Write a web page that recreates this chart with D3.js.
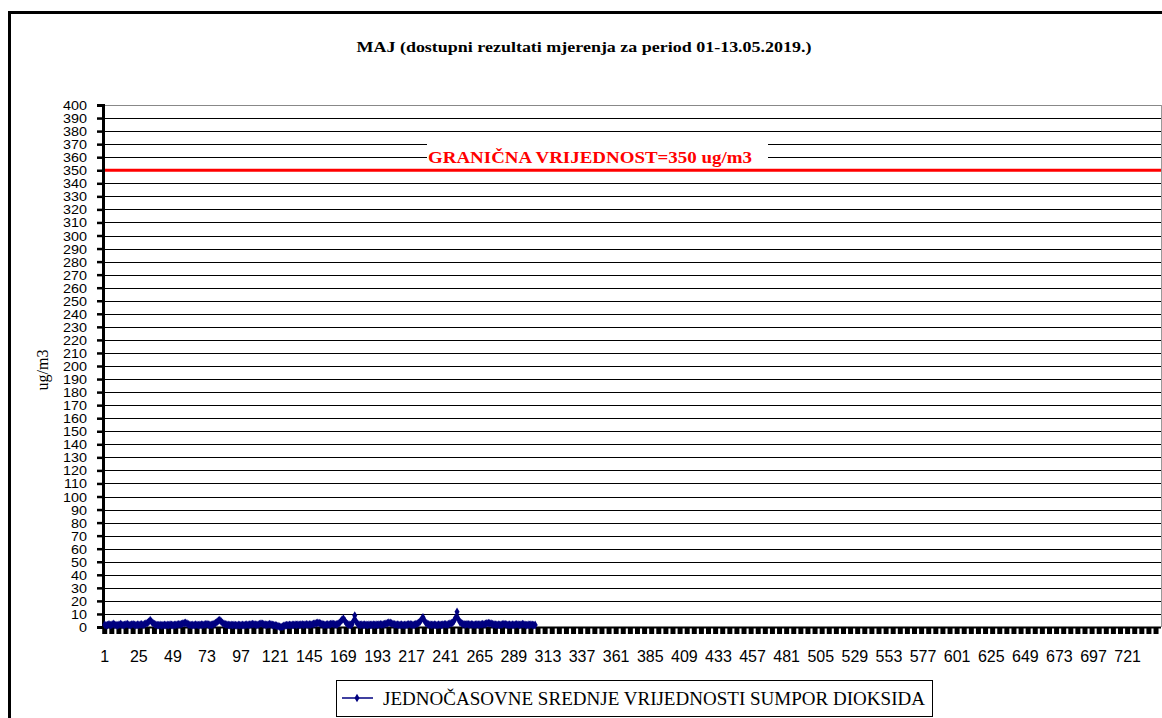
<!DOCTYPE html>
<html><head><meta charset="utf-8">
<script src="https://cdn.jsdelivr.net/npm/d3@7"></script>
<style>html,body{margin:0;padding:0;background:#fff;overflow:hidden}
.serif{font-family:"Liberation Serif","DejaVu Serif",serif}
.sans{font-family:"Liberation Sans","DejaVu Sans",sans-serif}
</style>
</head><body>
<svg id="c" width="1162" height="718"></svg>
<script>
const titleText = "MAJ (dostupni rezultati mjerenja za period 01-13.05.2019.)";
const yTitle = "ug/m3";
const seriesName = "JEDNOČASOVNE SREDNJE VRIJEDNOSTI SUMPOR DIOKSIDA";
const limitLabel = "GRANIČNA VRIJEDNOST=350 ug/m3";
const limitValue = 350;
const hoursInMonth = 744;
const xTickLabels = [1,25,49,73,97,121,145,169,193,217,241,265,289,313,337,361,385,409,433,457,481,505,529,553,577,601,625,649,673,697,721];
const yTicks = d3.range(0, 401, 10);
// hourly SO2 values, by day
const day01 = [1.8,1.2,1.5,2.1,1.4,1.6,2.4,1.9,1.5,1.3,1.7,2.2,1.8,1.4,1.6,2.0,2.3,1.7,1.5,1.9,2.1,1.6,1.4,1.8];
const day02 = [1.6,1.8,2.0,1.7,2.2,2.6,3.1,4.0,5.2,4.1,2.9,2.2,1.8,1.5,1.4,1.6,1.3,1.5,1.7,1.4,1.6,1.5,1.8,1.6];
const day03 = [1.5,1.7,1.6,1.9,2.1,2.0,2.3,2.6,3.0,3.2,2.5,2.0,1.7,1.5,1.6,1.4,1.8,1.6,1.5,1.7,1.9,1.6,1.8,2.0];
const day04 = [2.2,1.9,1.7,1.6,1.8,2.4,3.0,3.8,4.9,5.3,4.2,3.1,2.4,2.0,1.8,1.6,1.5,1.7,1.4,1.6,1.5,1.3,1.6,1.5];
const day05 = [1.4,1.6,1.5,1.7,1.8,1.6,1.9,2.0,2.2,2.1,1.8,1.7,1.9,2.3,2.6,2.4,2.1,1.8,1.6,1.9,2.2,2.0,1.7,1.5];
const day06 = [1.3,1.0,0.6,0.2,0.0,0.3,0.8,1.2,1.5,1.4,1.6,1.5,1.7,1.6,1.8,1.7,1.9,1.6,1.8,2.0,1.7,1.9,2.1,1.8];
const day07 = [2.0,1.8,2.1,2.4,2.6,2.9,3.2,3.0,2.6,2.2,1.9,1.7,1.8,2.0,1.9,2.2,2.4,2.3,2.1,2.0,2.2,3.0,4.2,5.5];
const day08 = [6.4,4.8,3.0,2.2,1.8,1.6,2.0,4.5,8.8,4.2,2.4,1.9,1.7,1.8,1.6,1.9,1.7,1.5,1.8,1.6,1.7,1.9,1.6,1.8];
const day09 = [1.7,1.9,2.1,1.8,2.0,2.3,2.6,2.9,3.3,3.1,2.7,2.3,2.0,1.8,1.9,1.7,1.6,1.8,1.5,1.7,1.6,1.9,2.1,2.0];
const day10 = [1.8,1.6,1.9,2.2,2.6,3.1,4.3,5.8,7.4,5.1,3.2,2.4,2.0,1.8,1.6,1.7,1.9,1.6,1.5,1.8,1.7,1.6,1.9,2.1];
const day11 = [2.0,1.8,2.2,2.5,2.9,3.4,4.8,7.2,11.6,6.0,3.8,2.9,2.4,2.1,1.9,2.2,2.0,1.8,2.1,1.9,1.7,1.8,2.0,1.9];
const day12 = [1.8,2.0,2.2,2.1,2.4,2.7,3.0,2.8,2.5,2.2,2.0,1.8,1.7,1.9,1.6,1.8,2.0,2.3,2.1,1.9,1.7,1.8,1.6,1.9];
const day13 = [1.7,1.9,2.1,1.8,1.6,1.9,2.2,2.0,1.7,1.5,1.8,1.6,1.9,1.7,1.5,1.6];

const values = [].concat(day01,day02,day03,day04,day05,day06,day07,day08,day09,day10,day11,day12,day13);
const data = values.map((v,i)=>({h:i+1, v}));
const categories = d3.range(1, hoursInMonth+1);

const svg = d3.select("#c");
const m = {left:104, right:1161, top:105, bottom:627};
const x = d3.scaleBand().domain(categories).range([m.left, m.right]).padding(0);
const y = d3.scaleLinear().domain([0,400]).range([m.bottom, m.top]);
const cx = h => x(h) + x.bandwidth()/2;

// outer chart border
svg.append("rect").attr("x",9.5).attr("y",12.5).attr("width",1170).attr("height",720)
  .attr("fill","#fff").attr("stroke","#000").attr("stroke-width",3);

// title
svg.append("text").attr("class","serif").attr("x",584).attr("y",52).attr("text-anchor","middle")
  .attr("font-weight","bold")
  .attr("font-size",15).attr("textLength",455).attr("lengthAdjust","spacingAndGlyphs").text(titleText);

// gridlines
svg.append("g").selectAll("line").data(yTicks.filter(t=>t>0)).join("line")
  .attr("x1",m.left).attr("x2",m.right)
  .attr("y1",d=>Math.round(y(d))+0.5).attr("y2",d=>Math.round(y(d))+0.5)
  .attr("stroke",d=>d===400?"#888":"#000").attr("stroke-width",1);
// right border of plot
svg.append("line").attr("x1",m.right+0.5).attr("x2",m.right+0.5).attr("y1",m.top).attr("y2",m.bottom)
  .attr("stroke","#999");

// limit line
svg.append("line").attr("x1",m.left).attr("x2",m.right).attr("y1",y(limitValue)).attr("y2",y(limitValue))
  .attr("stroke","#ff0000").attr("stroke-width",3);

// limit label with white box
const ly = y(limitValue + 8);
svg.append("rect").attr("x",427).attr("y",y(limitValue+30)+3).attr("width",341).attr("height",y(limitValue+3)-y(limitValue+30)-3)
  .attr("fill","#fff");
svg.append("text").attr("class","serif").attr("x",590).attr("y",ly+3).attr("text-anchor","middle")
  .attr("font-weight","bold")
  .attr("font-size",17).attr("fill","#ff0000").attr("textLength",324).attr("lengthAdjust","spacingAndGlyphs")
  .text(limitLabel);

// x axis tick marks
const tickCats = categories.filter(c => (c-1)%5===0);
const xTicksG = svg.append("g").attr("transform",`translate(0,${m.bottom+1})`)
  .call(d3.axisBottom(x).tickValues(tickCats).tickSize(6).tickFormat(""));
xTicksG.select(".domain").remove();
xTicksG.selectAll(".tick line").attr("stroke","#000").attr("stroke-width",5);

// x axis labels
const xLab = svg.append("g").attr("transform",`translate(0,${m.bottom})`)
  .call(d3.axisBottom(x).tickValues(xTickLabels).tickSize(0).tickPadding(24));
xLab.select(".domain").remove();
xLab.attr("font-family",null).attr("font-size",null);
xLab.selectAll("text").attr("class","sans").attr("font-size",16).attr("fill","#000");

// x axis line
svg.append("line").attr("x1",m.left).attr("x2",m.right).attr("y1",m.bottom+0.5).attr("y2",m.bottom+0.5)
  .attr("stroke","#000").attr("stroke-width",2);

// y axis
const yAx = svg.append("g").attr("transform",`translate(${m.left-1},0)`)
  .call(d3.axisLeft(y).tickValues(yTicks).tickSize(6).tickPadding(8));
yAx.attr("font-family",null).attr("font-size",null);
yAx.select(".domain").attr("stroke","#000").attr("stroke-width",3);
yAx.selectAll(".tick line").attr("stroke","#000").attr("stroke-width",2.5);
yAx.selectAll("text").attr("class","sans").attr("font-size",12.5).attr("fill","#000").attr("dy","0.36em")
  .attr("transform","scale(1.15,1)");

// y title
svg.append("text").attr("class","serif").attr("transform","translate(48,370) rotate(-90)").attr("text-anchor","middle")
  .attr("font-size",16).text(yTitle);

// series line
const navy = "#000080";
svg.append("path").datum(data)
  .attr("d", d3.line().x(d=>cx(d.h)).y(d=>y(d.v)))
  .attr("fill","none").attr("stroke",navy).attr("stroke-width",1.5);
const diamond = d3.symbol().type(d3.symbolDiamond).size(22);
svg.append("g").selectAll("path").data(data).join("path")
  .attr("d", diamond).attr("transform", d=>`translate(${cx(d.h)},${y(d.v)})`).attr("fill",navy);

// legend
svg.append("rect").attr("x",336.5).attr("y",680.5).attr("width",596).attr("height",36)
  .attr("fill","#fff").attr("stroke","#000").attr("stroke-width",1);
svg.append("line").attr("x1",342).attr("x2",373).attr("y1",698).attr("y2",698).attr("stroke",navy).attr("stroke-width",1.5);
svg.append("path").attr("d",diamond).attr("transform","translate(357,698)").attr("fill",navy);
svg.append("text").attr("class","serif").attr("x",383).attr("y",705)
  .attr("font-size",18)
  .attr("textLength",542).attr("lengthAdjust","spacingAndGlyphs").text(seriesName);
</script>
</body></html>
